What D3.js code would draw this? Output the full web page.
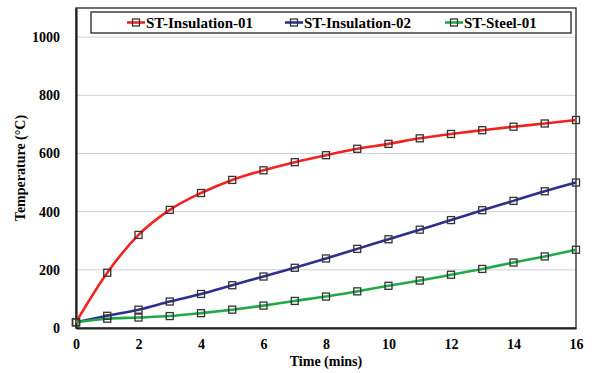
<!DOCTYPE html>
<html><head><meta charset="utf-8">
<script src="https://cdn.jsdelivr.net/npm/d3@7"></script>
<style>body{margin:0;background:#fff}svg{display:block}svg text{font-family:'Liberation Serif','Times New Roman','DejaVu Serif',serif !important;font-weight:bold;fill:#000}</style>
</head><body>
<svg id="c" width="592" height="373"></svg>
<script>
const times = [0,1,2,3,4,5,6,7,8,9,10,11,12,13,14,15,16];
const insulation01 = [20,190,320,406,464,509,542,570,594,616,633,652,667,680,692,703,715];
const insulation02 = [20,42,63,91,117,147,177,207,239,272,305,338,371,405,437,470,500];
const steel01 = [20,32,36,41,51,63,77,93,108,126,145,163,183,203,225,246,269];
const seriesNames = ["ST-Insulation-01","ST-Insulation-02","ST-Steel-01"];
const seriesColors = ["#f52222","#2e2f8e","#22a84a"];
const xTicks = [0,2,4,6,8,10,12,14,16];
const yTicks = [0,200,400,600,800,1000];

const FONT = "'Liberation Serif','Times New Roman','DejaVu Serif',serif";
const svg = d3.select("#c");
const L=76,R=576,T=8,B=328;
const x = d3.scaleLinear().domain([0,16]).range([L,R]);
const y = d3.scaleLinear().domain([0,1100]).range([B,T]);

// gridlines
svg.append("g").selectAll("line").data(yTicks.filter(d=>d>0)).join("line")
  .attr("x1",L).attr("x2",R).attr("y1",d=>y(d)).attr("y2",d=>y(d))
  .attr("stroke","#cfcfcf").attr("stroke-width",1);

// frame
svg.append("rect").attr("x",L).attr("y",T).attr("width",R-L).attr("height",B-T)
  .attr("fill","none").attr("stroke","#222").attr("stroke-width",1.3);

// axes
const ya = svg.append("g").attr("transform",`translate(${L},0)`)
  .call(d3.axisLeft(y).tickValues(yTicks).tickFormat(d3.format("d")).tickSize(0).tickPadding(16));
ya.attr("font-family",FONT).attr("font-size",14);
ya.select(".domain").attr("stroke","#222").attr("stroke-width",2.2);
const xa = svg.append("g").attr("transform",`translate(0,${B})`)
  .call(d3.axisBottom(x).tickValues(xTicks).tickSize(0).tickPadding(11));
xa.attr("font-family",FONT).attr("font-size",14);
xa.select(".domain").attr("stroke","#222").attr("stroke-width",2.2);

// axis titles
svg.append("text").attr("x",326).attr("y",366).attr("text-anchor","middle").attr("font-size",14).text("Time (mins)");
svg.append("text").attr("transform","translate(25,168) rotate(-90)").attr("text-anchor","middle").attr("font-size",14).text("Temperature (°C)");

const all = [insulation01,insulation02,steel01];
const line = d3.line().x((d,i)=>x(times[i])).y(d=>y(d)).curve(d3.curveMonotoneX);
all.forEach((s,k)=>{
  svg.append("path").datum(s).attr("d",line).attr("fill","none")
    .attr("stroke",seriesColors[k]).attr("stroke-width",2.6);
});
all.forEach((s,k)=>{
  svg.append("g").selectAll("rect").data(s).join("rect")
    .attr("x",(d,i)=>x(times[i])-3.5).attr("y",d=>y(d)-3.5)
    .attr("width",7).attr("height",7).attr("fill","none")
    .attr("stroke","#333").attr("stroke-width",1.3);
});

// legend
svg.append("rect").attr("x",91).attr("y",12).attr("width",480).attr("height",21)
  .attr("fill","#fff").attr("stroke","#222").attr("stroke-width",1.3);
const legX = [127,285,445];
seriesNames.forEach((n,k)=>{
  const g = svg.append("g").attr("transform",`translate(${legX[k]},22.5)`);
  g.append("line").attr("x1",0).attr("x2",18).attr("stroke",seriesColors[k]).attr("stroke-width",2.6);
  g.append("rect").attr("x",9-3.5).attr("y",-3.5).attr("width",7).attr("height",7).attr("fill","none").attr("stroke","#333").attr("stroke-width",1.3);
  g.append("text").attr("x",19).attr("y",5.5).attr("font-size",15).text(n);
});
</script>
</body></html>
